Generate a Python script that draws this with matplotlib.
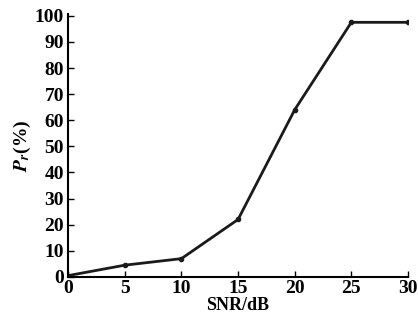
import matplotlib
matplotlib.use("Agg")
import matplotlib.pyplot as plt

# SNR (dB) vs detection probability
snr = [0, 5, 10, 15, 20, 25, 30]
pr = [0.5, 4.5, 7, 22, 64, 97.5, 97.5]
xticks = [0, 5, 10, 15, 20, 25, 30]
yticks = [0, 10, 20, 30, 40, 50, 60, 70, 80, 90, 100]

plt.rcParams['font.family'] = ['Liberation Serif', 'DejaVu Serif']
plt.rcParams['font.weight'] = 'bold'
plt.rcParams['mathtext.fontset'] = 'stix'

fig = plt.figure(figsize=(4.18, 3.22), dpi=100)
ax = fig.add_axes([0.163, 0.14, 0.813, 0.815])

ax.plot(snr, pr, color='#1a1a1a', lw=2, marker='o', ms=3)

ax.set_xlim(0, 30)
ax.set_ylim(0, 100.5)
ax.set_xticks(xticks)
ax.set_yticks(yticks)
ax.tick_params(direction='in', length=4, width=1, labelsize=14)
ax.tick_params(axis='x', pad=2)
ax.tick_params(axis='y', pad=3)
for lab in ax.get_xticklabels() + ax.get_yticklabels():
    lab.set_fontweight('bold')

for s in ['top', 'right']:
    ax.spines[s].set_visible(False)
for s in ['left', 'bottom']:
    ax.spines[s].set_linewidth(1.5)

ax.set_xlabel('SNR/dB', fontsize=13, fontweight='bold', labelpad=0)
ax.set_ylabel(r'$\boldsymbol{P_r}$(%)', fontsize=14, fontweight='bold', labelpad=1)

fig.savefig('out.png', dpi=100)
